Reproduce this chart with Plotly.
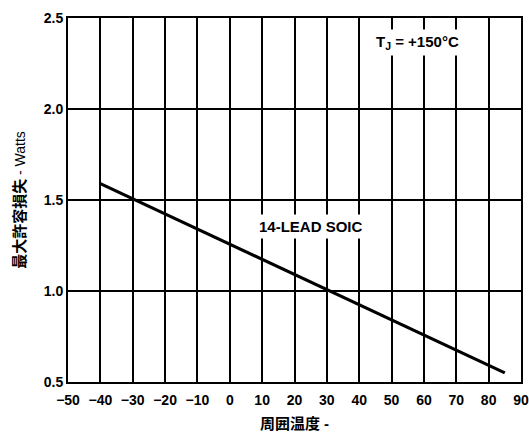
import plotly.graph_objects as go

# Derating curve: maximum power dissipation vs. ambient temperature
ambient_temp = [-40, 85]
max_power = [1.59, 0.55]

x_ticks = list(range(-50, 91, 10))
y_ticks = [0.5, 1.0, 1.5, 2.0, 2.5]

FONT = "Liberation Sans, Arial, Noto Sans CJK JP, sans-serif"

fig = go.Figure()
fig.add_trace(go.Scatter(
    x=ambient_temp, y=max_power, mode="lines",
    line=dict(color="black", width=3.2),
    showlegend=False,
))

label_style = dict(showarrow=False, bgcolor="white", borderpad=3,
                   font=dict(family=FONT, size=15, color="black"))
fig.add_annotation(x=58, y=2.365, text="<b>T<sub>J</sub> = +150°C</b>", **label_style)
fig.add_annotation(x=25, y=1.352, text="<b>14-LEAD SOIC</b>", **label_style)

fig.update_layout(
    width=529, height=432,
    margin=dict(l=68, r=8, t=18, b=50),
    plot_bgcolor="white", paper_bgcolor="white",
    font=dict(family=FONT, color="black"),
)
fig.update_xaxes(
    range=[-50, 90], tickvals=x_ticks, automargin=False,
    showgrid=True, gridcolor="black", gridwidth=2,
    showline=True, linecolor="black", linewidth=2, mirror=True,
    ticks="", zeroline=False, ticklabelstandoff=4,
    tickfont=dict(family=FONT, size=14, color="black", weight="bold"),
    title=dict(text="<b>周囲温度 -</b>", font=dict(family=FONT, size=15), standoff=12),
)
fig.update_yaxes(
    range=[0.5, 2.5], tickvals=y_ticks, tickformat=".1f", automargin=False,
    showgrid=True, gridcolor="black", gridwidth=1.5,
    showline=True, linecolor="black", linewidth=2, mirror=True,
    ticks="", zeroline=False,
    tickfont=dict(family=FONT, size=14, color="black", weight="bold"),
    title=dict(text="<b>最大許容損失</b><span style=\"font-size:14px\"> - Watts</span>",
               font=dict(family=FONT, size=15), standoff=14),
)

fig.write_html("out.html")
